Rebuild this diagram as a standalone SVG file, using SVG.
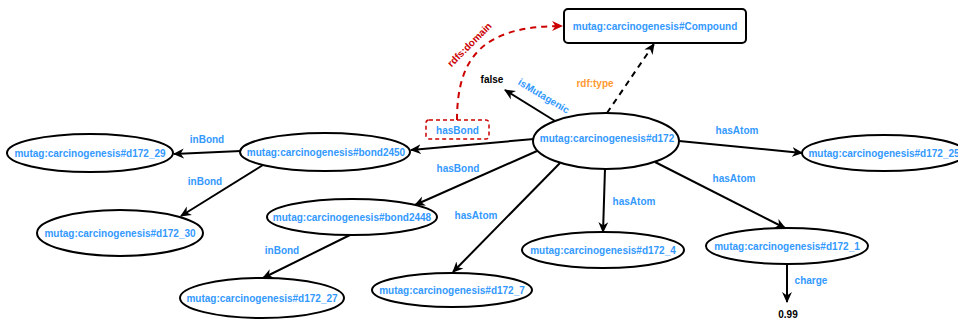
<svg xmlns="http://www.w3.org/2000/svg" width="958" height="320" viewBox="0 0 958 320">
<defs>
<style>
.n{fill:#fff;stroke:#000;stroke-width:2}
.t{font-family:"Liberation Sans",Arial,sans-serif;font-weight:bold;font-size:10px;text-anchor:middle;fill:#3399FF}
.k{fill:#000}
.e{stroke:#000;stroke-width:2;fill:none;marker-end:url(#a)}
.d{stroke-dasharray:6 5}
.r{stroke:#CC0000;stroke-width:2;fill:none;stroke-dasharray:6 5;marker-end:url(#ar)}
</style>
<marker id="a" viewBox="0 0 10 10" refX="9" refY="5" markerWidth="11" markerHeight="11" markerUnits="userSpaceOnUse" orient="auto"><path d="M0,0.5 L10,5 L0,9.5 L3,5 z" fill="#000"/></marker>
<marker id="ar" viewBox="0 0 10 10" refX="9" refY="5" markerWidth="11" markerHeight="11" markerUnits="userSpaceOnUse" orient="auto"><path d="M0,0.5 L10,5 L0,9.5 L3,5 z" fill="#CC0000"/></marker>
</defs>
<rect width="958" height="320" fill="#fff"/>
<g id="connectors">
<path class="e" d="M241,151 L174,154"/>
<path class="e" d="M263,165 L181,216"/>
<path class="e" d="M534,139 L411,150"/>
<path class="e" d="M555,121 L505,90"/>
<path class="e d" d="M607,113 L654,44"/>
<path class="e" d="M679,141 L802,153"/>
<path class="e" d="M537,151 L415,205"/>
<path class="e" d="M560,163 L453,272"/>
<path class="e" d="M605,169 L603,232"/>
<path class="e" d="M655,162 L785,228"/>
<path class="e" d="M350,235 L263,278"/>
<path class="e" d="M787,264 L787,302"/>
<path class="r" d="M457,120 C457,55 485,26 562,26"/>
</g>
<g id="compound"><rect class="n" x="564" y="9" width="182" height="34" rx="4"/><text class="t" x="655" y="29.5">mutag:carcinogenesis#Compound</text></g>
<g id="d172"><ellipse class="n" cx="606" cy="141" rx="73" ry="28"/><text class="t" x="607" y="142">mutag:carcinogenesis#d172</text></g>
<g id="bond2450"><ellipse class="n" cx="325" cy="152" rx="85" ry="19"/><text class="t" x="326" y="155.5">mutag:carcinogenesis#bond2450</text></g>
<g id="d172_29"><ellipse class="n" cx="90" cy="153" rx="83" ry="19"/><text class="t" x="90" y="157">mutag:carcinogenesis#d172_29</text></g>
<g id="d172_30"><ellipse class="n" cx="120" cy="233" rx="83" ry="23"/><text class="t" x="120" y="237">mutag:carcinogenesis#d172_30</text></g>
<g id="d172_25"><ellipse class="n" cx="884" cy="153" rx="82" ry="18"/><text class="t" x="884" y="156.5">mutag:carcinogenesis#d172_25</text></g>
<g id="bond2448"><ellipse class="n" cx="352" cy="217" rx="85" ry="18"/><text class="t" x="352" y="220.5">mutag:carcinogenesis#bond2448</text></g>
<g id="d172_27"><ellipse class="n" cx="262" cy="298" rx="82" ry="20"/><text class="t" x="262" y="301.5">mutag:carcinogenesis#d172_27</text></g>
<g id="d172_7"><ellipse class="n" cx="452" cy="290" rx="80" ry="17"/><text class="t" x="452" y="293.5">mutag:carcinogenesis#d172_7</text></g>
<g id="d172_4"><ellipse class="n" cx="603" cy="250" rx="81" ry="18"/><text class="t" x="603" y="253.5">mutag:carcinogenesis#d172_4</text></g>
<g id="d172_1"><ellipse class="n" cx="787" cy="246" rx="81" ry="18"/><text class="t" x="787" y="249.5">mutag:carcinogenesis#d172_1</text></g>
<g id="false"><text class="t k" x="492" y="82.5">false</text></g>
<g id="v099"><text class="t k" x="788" y="317.5">0.99</text></g>
<g id="hasBondBox"><rect x="426" y="120" width="63" height="19" rx="3" fill="#fff" stroke="#CC0000" stroke-width="1.5" stroke-dasharray="4 3"/><text class="t" x="457.5" y="133.5">hasBond</text></g>
<g id="labels">
<text class="t" x="207" y="142.5">inBond</text>
<text class="t" x="205" y="184.5">inBond</text>
<text class="t" x="282" y="253.5">inBond</text>
<text class="t" x="458" y="171.5">hasBond</text>
<text class="t" x="476" y="218.5">hasAtom</text>
<text class="t" x="634" y="204.5">hasAtom</text>
<text class="t" x="734" y="181.5">hasAtom</text>
<text class="t" x="737" y="133.5">hasAtom</text>
<text class="t" x="811" y="283.5">charge</text>
<text class="t" x="595" y="86.5" style="fill:#FF9933">rdf:type</text>
<text class="t" transform="translate(542,99) rotate(31)">isMutagenic</text>
<text class="t" transform="translate(472,47) rotate(-45)" style="fill:#CC0000">rdfs:domain</text>
</g>
</svg>
